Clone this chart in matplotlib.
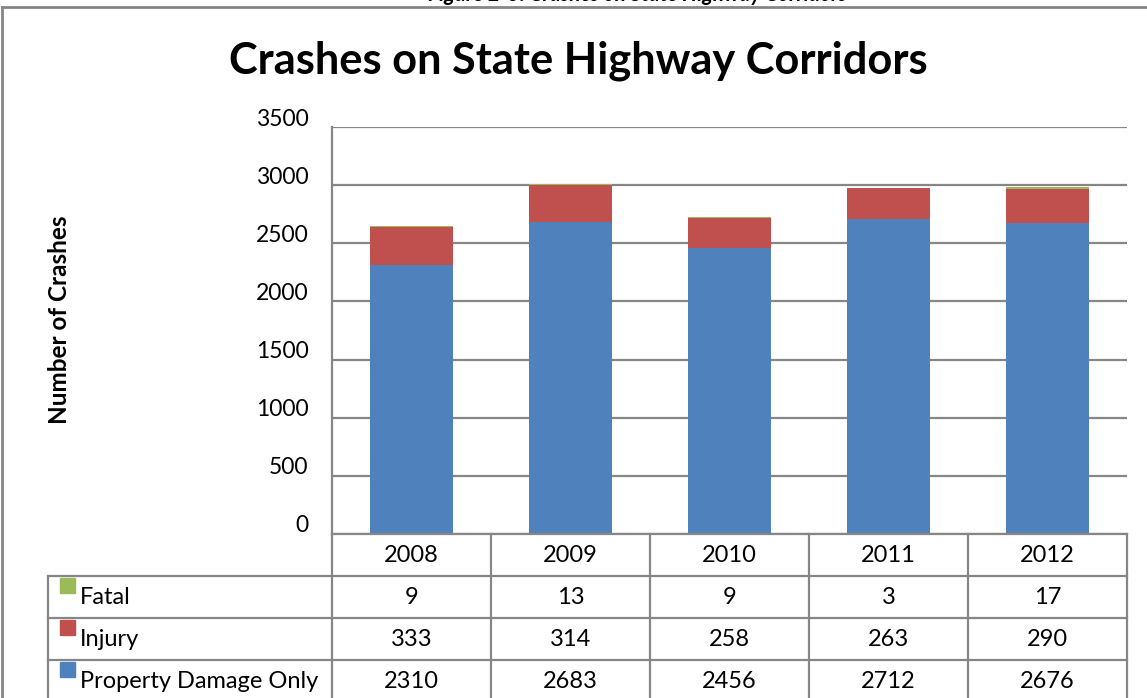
import numpy as np
import matplotlib.pyplot as plt
from matplotlib.transforms import ScaledTranslation
from matplotlib.patches import Rectangle

plt.rcParams['font.family'] = ['Lato', 'DejaVu Sans']

years = ['2008', '2009', '2010', '2011', '2012']
series = ['Fatal', 'Injury', 'Property Damage Only']
fatal = [9, 13, 9, 3, 17]
injury = [333, 314, 258, 263, 290]
pdo = [2310, 2683, 2456, 2712, 2676]
yticks = [0, 500, 1000, 1500, 2000, 2500, 3000, 3500]

colors = {'Fatal': '#9BBB59', 'Injury': '#C0504D', 'Property Damage Only': '#4F81BD'}
gray = '#868686'

W, H = 1147, 698
fig = plt.figure(figsize=(W / 100, H / 100), dpi=100)

def fx(px):
    return px / W

def fy(py):
    return 1 - py / H

# plot area in pixels
left, right, top, bottom = 332, 1127, 127, 534
ax = fig.add_axes([fx(left), fy(bottom), fx(right - left), (bottom - top) / H])

x = np.arange(len(years))
bw = 0.52
ax.bar(x, pdo, bw, color=colors['Property Damage Only'], zorder=2)
ax.bar(x, injury, bw, bottom=pdo, color=colors['Injury'], zorder=2)
ax.bar(x, fatal, bw, bottom=np.array(pdo) + np.array(injury), color=colors['Fatal'], zorder=2)

ax.set_xlim(-0.5, len(years) - 0.5)
ax.set_ylim(0, 3500)
ax.set_yticks(yticks)
ax.set_xticks([])
ax.yaxis.grid(True, color=gray, linewidth=1.6, zorder=0)
ax.set_axisbelow(True)
for s in ['top', 'right', 'bottom']:
    ax.spines[s].set_visible(False)
ax.spines['left'].set_color(gray)
ax.spines['left'].set_linewidth(1.6)
ax.tick_params(axis='y', length=0, pad=17, labelsize=16.5)
off = ScaledTranslation(0, 10 / 100, fig.dpi_scale_trans)
for lab in ax.get_yticklabels():
    lab.set_transform(lab.get_transform() + off)

# titles
fig.text(fx(578), fy(61), 'Crashes on State Highway Corridors', ha='center', va='center',
         fontsize=31.2, fontweight='bold')
fig.text(fx(637), fy(-5), 'Figure 2-3: Crashes on State Highway Corridors', ha='center',
         va='center', fontsize=15, fontweight='bold', style='italic')
fig.text(fx(60), fy(320), 'Number of Crashes', ha='center', va='center', rotation=90,
         fontsize=17.5, fontweight='bold')

# outer frame
fig.add_artist(plt.Line2D([fx(2), fx(1200)], [fy(6.5), fy(6.5)], color=gray, lw=2))
fig.add_artist(plt.Line2D([fx(2), fx(2)], [fy(6.5), fy(720)], color=gray, lw=2))

# data table
col_w = (right - left) / len(years)
row_y = [534, 576, 618, 660, 702]
lw = 1.6
# horizontal lines
fig.add_artist(plt.Line2D([fx(left), fx(right)], [fy(row_y[0])] * 2, color=gray, lw=lw))
for ry in row_y[1:4]:
    fig.add_artist(plt.Line2D([fx(48), fx(right)], [fy(ry)] * 2, color=gray, lw=lw))
# vertical lines
for i in range(len(years) + 1):
    cx = left + i * col_w
    fig.add_artist(plt.Line2D([fx(cx)] * 2, [fy(row_y[0]), fy(720)], color=gray, lw=lw))
fig.add_artist(plt.Line2D([fx(48)] * 2, [fy(row_y[1]), fy(720)], color=gray, lw=lw))

for i, yr in enumerate(years):
    fig.text(fx(left + (i + 0.5) * col_w), fy((row_y[0] + row_y[1]) / 2 + 1), yr,
             ha='center', va='center', fontsize=17)

rows = [fatal, injury, pdo]
for r, name in enumerate(series):
    y0 = row_y[r + 1]
    yc = (y0 + row_y[r + 2]) / 2
    fig.add_artist(Rectangle((fx(60), fy(y0 + 17)), fx(15), 15 / H,
                             color=colors[name], transform=fig.transFigure))
    fig.text(fx(80), fy(yc + 1), name, ha='left', va='center', fontsize=17)
    for i, v in enumerate(rows[r]):
        fig.text(fx(left + (i + 0.5) * col_w), fy(yc + 1), str(v),
                 ha='center', va='center', fontsize=17)

fig.savefig('out.png', dpi=100)
